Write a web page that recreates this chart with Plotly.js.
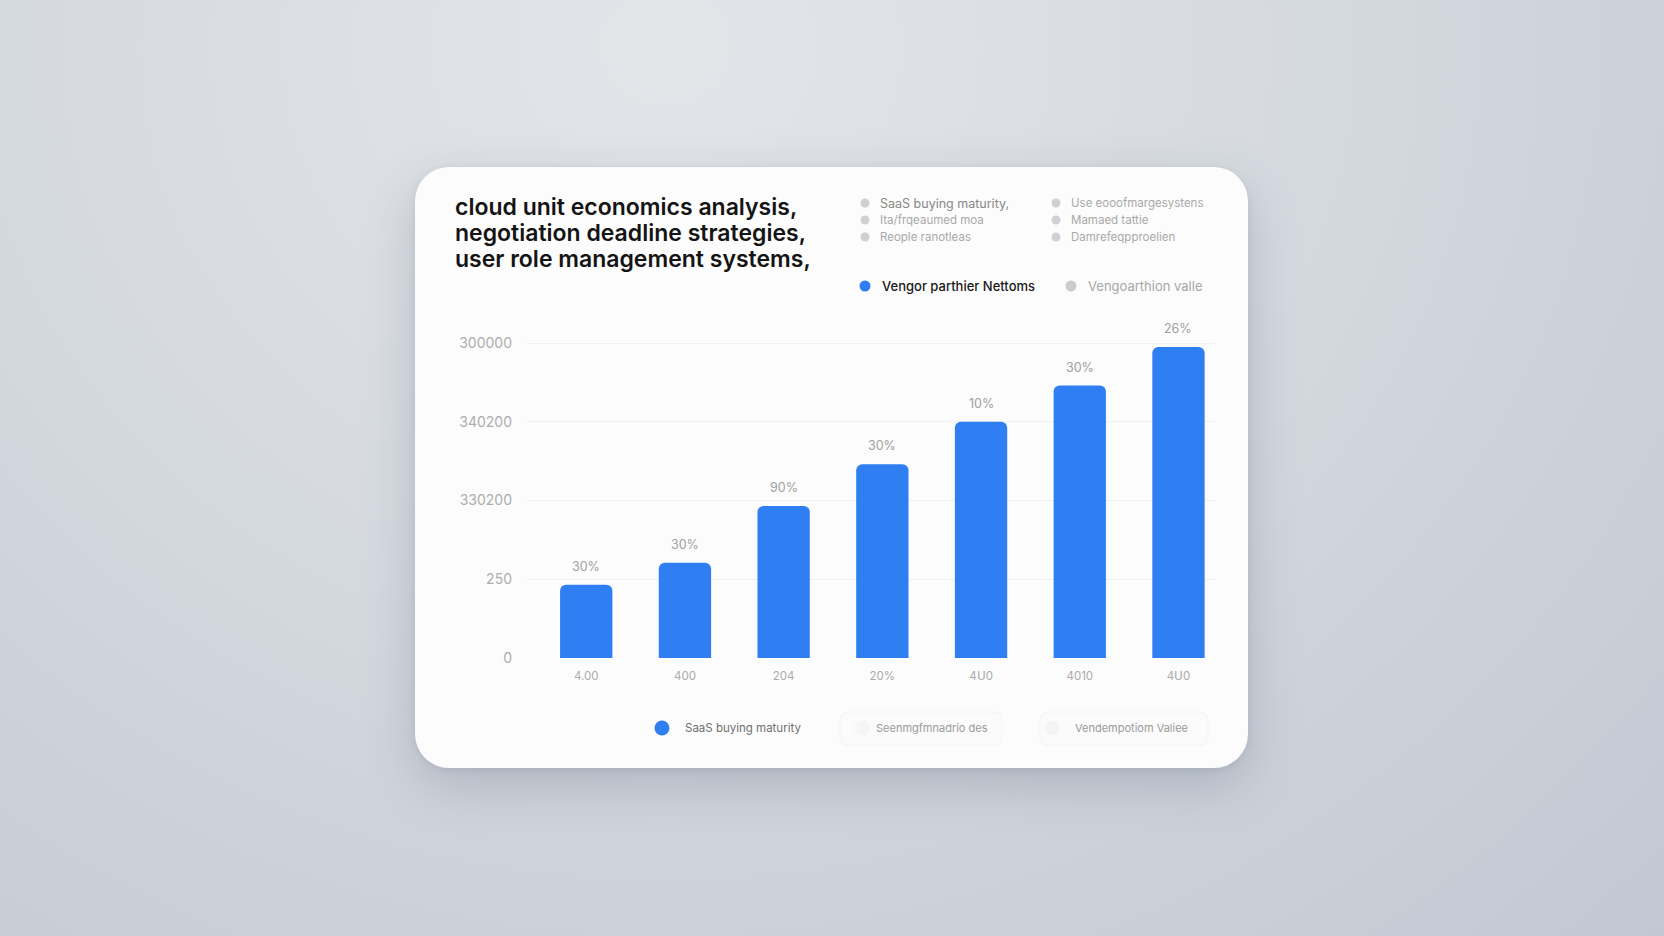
<!DOCTYPE html>
<html>
<head>
<meta charset="utf-8">
<script src="https://cdn.plot.ly/plotly-3.0.1.min.js"></script>
<style>
  html, body { margin: 0; padding: 0; width: 1664px; height: 936px; overflow: hidden; }
  body {
    background: radial-gradient(ellipse at 40% 5%, #e3e5e9 0%, #d7dbe1 40%, #c2c8d2 100%);
    font-family: Inter, "Noto Sans", sans-serif;
  }
  #card {
    position: absolute; left: 415px; top: 167px; width: 833px; height: 601px;
    background: #fcfcfc; border-radius: 34px;
    box-shadow: 0 18px 50px rgba(90, 100, 120, 0.28), 0 2px 6px rgba(90, 100, 120, 0.12);
  }
  #plot { position: absolute; left: 0; top: 0; width: 1664px; height: 936px; }
</style>
</head>
<body>
<div id="card"></div>
<div id="plot"></div>
<script>
/* global Plotly */
const titleLines = ['cloud unit economics analysis,', 'negotiation deadline strategies,', 'user role management systems,']
const xTickText = ['4.00', '400', '204', '20%', '4Ս0', '4010', '4Ս0']
const barValues = [0.93, 1.21, 1.93, 2.46, 3.0, 3.46, 3.95]
const barLabels = ['30%', '30%', '90%', '30%', '10%', '30%', '26%']
const yTickVals = [0, 1, 2, 3, 4]
const yTickText = ['0', '250', '330200', '340200', '300000']
const topLegendCol1 = ['SaaS buying maturity,', 'Ita/frqeaumed moa', 'Reople ranotleas']
const topLegendCol2 = ['Use eooofmargesystens', 'Mamaed tattie', 'Damrefeqpproelien']
const seriesLegend = ['Vengor parthier Nettoms', 'Vengoarthion valle']
const bottomLegend = ['SaaS buying maturity', 'Seenmgfmnadrio des', 'Vendempotiom Valiee']

const W = 1664, H = 936
const px = x => x / W
const py = y => 1 - y / H

const FONT = 'Inter, "Noto Sans", sans-serif'
const BLUE = '#2f7ff2'
const GREY_DOT = '#cccccc'

const annotations = []
const shapes = []

const dot = (cx, cy, r, color) => shapes.push({
    type: 'circle', xref: 'paper', yref: 'paper',
    x0: px(cx - r), x1: px(cx + r), y0: py(cy + r), y1: py(cy - r),
    fillcolor: color, line: {width: 0}
})
const label = (x, y, text, size, color, weight = 400) => annotations.push({
    xref: 'paper', yref: 'paper', x: px(x), y: py(y), text,
    showarrow: false, xanchor: 'left', yanchor: 'middle',
    font: {size, color, family: FONT, weight}
})
const pill = (x0, x1, y0, y1) => {
    const r = 8
    shapes.push({
        type: 'path', xref: 'paper', yref: 'paper',
        path: `M${px(x0 + r)},${py(y0)} L${px(x1 - r)},${py(y0)} Q${px(x1)},${py(y0)} ${px(x1)},${py(y0 + r)} ` +
              `L${px(x1)},${py(y1 - r)} Q${px(x1)},${py(y1)} ${px(x1 - r)},${py(y1)} L${px(x0 + r)},${py(y1)} ` +
              `Q${px(x0)},${py(y1)} ${px(x0)},${py(y1 - r)} L${px(x0)},${py(y0 + r)} Q${px(x0)},${py(y0)} ${px(x0 + r)},${py(y0)} Z`,
        fillcolor: '#fbfbfb', line: {color: '#f4f4f4', width: 1}
    })
}

// title
titleLines.forEach((t, i) => label(453, 207 + i * 26, t, 23, '#141414', 600))

// top legend, two columns
topLegendCol1.forEach((t, i) => { dot(865, 203 + i * 17, 4.5, '#d0d0d0'); label(878, 203 + i * 17, t, i === 0 ? 12.5 : 11.5, i === 0 ? '#888888' : '#a9a9a9') })
topLegendCol2.forEach((t, i) => { dot(1056, 203 + i * 17, 4.5, '#d0d0d0'); label(1069, 203 + i * 17, t, 11.5, '#a9a9a9') })

// series legend
dot(865, 286, 5.5, BLUE)
label(880, 286, seriesLegend[0], 13, '#1a1a1a', 500)
dot(1071, 286, 5.5, GREY_DOT)
label(1086, 286, seriesLegend[1], 13, '#a6a6a6')

// bottom legend with faint pills
pill(840, 1002, 712, 745)
pill(1040, 1208, 712, 745)
dot(662, 728, 7.5, BLUE)
label(683, 728, bottomLegend[0], 11.5, '#6f6f6f')
dot(862, 728, 7.5, '#f5f5f5')
label(874, 728, bottomLegend[1], 11, '#9a9a9a')
dot(1052, 728, 7.5, '#f5f5f5')
label(1073, 728, bottomLegend[2], 11, '#9a9a9a')

const xs = barValues.map((v, i) => i)

// labels above bars
barValues.forEach((v, i) => annotations.push({
    xref: 'x', yref: 'y', x: xs[i], y: v, text: barLabels[i],
    showarrow: false, yanchor: 'bottom', yshift: 9,
    font: {size: 12.5, color: '#a0a0a0', family: FONT}
}))

const data = [{
    type: 'bar', x: xs, y: barValues, width: 0.53,
    marker: {color: BLUE, cornerradius: 6},
    hoverinfo: 'skip', showlegend: false
}]

const layout = {
    width: W, height: H,
    margin: {l: 0, r: 0, t: 0, b: 0},
    paper_bgcolor: 'rgba(0,0,0,0)', plot_bgcolor: 'rgba(0,0,0,0)',
    showlegend: false,
    xaxis: {
        domain: [px(527), px(1215)], range: [-0.6, 6.37],
        tickvals: xs, ticktext: xTickText,
        showgrid: false, zeroline: false, showline: false, ticks: '',
        ticklabelstandoff: 9,
        tickfont: {size: 11.5, color: '#ababab', family: FONT}
    },
    yaxis: {
        domain: [py(658), py(658 - 4.3 * 78.75)], range: [0, 4.3],
        tickvals: yTickVals, ticktext: yTickText,
        showgrid: true, gridcolor: '#f0f0f0', gridwidth: 1,
        zeroline: false, showline: false, ticks: '',
        ticklabelstandoff: 14,
        tickfont: {size: 14, color: '#adadad', family: FONT}
    },
    annotations, shapes
}

Plotly.newPlot('plot', data, layout, {staticPlot: true, displayModeBar: false})
</script>
</body>
</html>
